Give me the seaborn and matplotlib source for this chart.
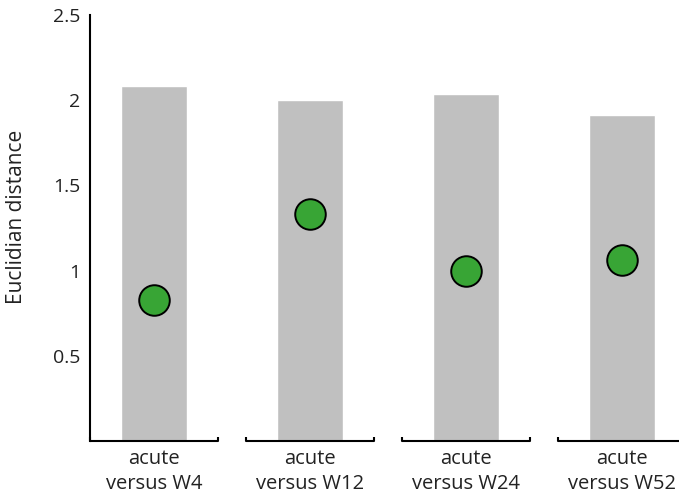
import matplotlib
matplotlib.use("Agg")
import matplotlib.pyplot as plt
import pandas as pd
import seaborn as sns

comparisons = ["acute\nversus W4", "acute\nversus W12", "acute\nversus W24", "acute\nversus W52"]
bar_values = [2.08, 2.00, 2.035, 1.91]
dot_values = [0.83, 1.33, 1.00, 1.06]
y_ticks = [0.5, 1, 1.5, 2, 2.5]
y_tick_labels = ["0.5", "1", "1.5", "2", "2.5"]

df = pd.DataFrame({"comparison": comparisons, "bar": bar_values, "dot": dot_values})

sns.set_theme(style="white")
plt.rcParams["font.family"] = ["Open Sans", "DejaVu Sans"]

fig = plt.figure(figsize=(6.79, 4.95), dpi=100)
ax = fig.add_axes([0.1325, 0.109, 0.8675, 0.861])

sns.barplot(data=df, x="comparison", y="bar", color="#c0c0c0", width=0.42,
            saturation=1, ax=ax, zorder=1)
sns.stripplot(data=df, x="comparison", y="dot", jitter=False, size=22,
              color="#38a535", edgecolor="black", linewidth=1.4, ax=ax, zorder=3)

ax.set_xlim(-0.41, 3.365)
ax.set_ylim(0, 2.5)

# y axis: only the top end gets a tick mark
ax.set_yticks(y_ticks, y_tick_labels, fontsize=14)
ax.set_yticks([2.5], minor=True)
ax.tick_params(axis="y", which="major", length=0, pad=7, colors="#222222")
ax.tick_params(axis="y", which="minor", length=4, width=1.5, direction="in", color="black")

ax.set_xticks(range(len(comparisons)), comparisons, fontsize=14.5, linespacing=1.3)
ax.tick_params(axis="x", length=0, pad=6, colors="#222222")

ax.set_xlabel("")
ax.set_ylabel("Euclidian distance", fontsize=15, color="#222222")
ax.yaxis.set_label_coords(-0.107, 0.525)

for side in ["top", "right", "bottom"]:
    ax.spines[side].set_visible(False)
ax.spines["left"].set_linewidth(1.5)
ax.spines["left"].set_color("black")

# separate bracket-style x axis segment under each comparison
half = 0.41
tick_h = 0.025
for i in range(len(comparisons)):
    ax.plot([i - half, i - half, i + half, i + half], [tick_h, 0, 0, tick_h],
            color="black", lw=1.5, clip_on=False, zorder=4, solid_capstyle="butt")

fig.savefig("out.png", dpi=100)
